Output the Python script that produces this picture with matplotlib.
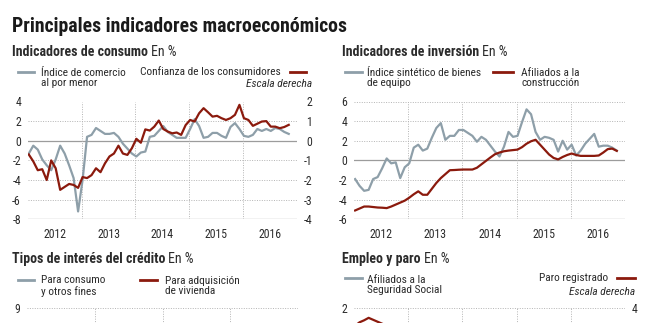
import matplotlib.pyplot as plt
from matplotlib.lines import Line2D
import numpy as np

plt.rcParams['font.family'] = ['Roboto Condensed', 'DejaVu Sans']

# Indicadores de consumo (mensual desde enero 2012)
comercio_por_menor = [-1.3, -0.5, -0.9, -1.9, -2.5, -3.0, -1.9, -0.5, -1.3, -2.5,
                      -3.8, -7.2, -4.0, 0.4, 0.6, 1.3, 1.0, 0.7, 0.7, 0.8,
                      0.4, -0.3, -0.8, -1.3, -1.6, -1.2, -1.1, 0.4, 0.5, 1.0,
                      1.5, 0.9, 0.6, 0.3, 0.3, 0.3, 1.2, 2.2, 1.5, 0.3,
                      0.4, 0.8, 0.8, 0.5, 0.3, 1.4, 1.8, 1.2, 0.5, 0.4,
                      0.6, 1.2, 1.0, 1.2, 1.0, 1.3, 1.2, 0.9, 0.7]
confianza_consumidores = [-0.7, -1.05, -1.5, -1.45, -2.0, -1.0, -1.4, -2.5, -2.35, -2.2,
                          -2.25, -2.4, -1.85, -1.9, -1.75, -1.4, -1.6, -1.15, -0.8, -0.65,
                          -0.25, -0.65, -0.72, -0.38, 0.1, -0.1, 0.58, 0.52, 0.72, 1.03,
                          0.6, 0.47, 0.38, 0.42, 0.3, 0.8, 1.06, 0.98, 1.4, 1.66,
                          1.45, 1.23, 1.27, 1.15, 1.06, 1.15, 1.32, 1.83, 1.15, 1.06,
                          0.76, 0.87, 0.98, 1.0, 0.72, 0.72, 0.64, 0.7, 0.81]

# Indicadores de inversión
bienes_equipo = [-1.9, -2.6, -3.1, -3.0, -1.9, -1.7, -0.8, 0.2, -0.3, -0.2,
                 -1.8, -0.7, -0.3, 1.3, 1.6, 1.0, 1.2, 2.3, 3.3, 3.8,
                 2.1, 2.5, 2.5, 3.1, 3.1, 2.8, 2.5, 1.9, 2.4, 2.1,
                 1.5, 0.9, 0.4, 1.4, 2.9, 2.4, 2.5, 3.9, 5.2, 4.7,
                 2.9, 2.1, 2.4, 2.3, 2.1, 0.9, 2.0, 1.1, 1.6, 0.5,
                 1.0, 1.7, 2.2, 2.7, 1.4, 1.5, 1.5, 1.3, 1.0]
afiliados_construccion = [-5.1, -4.9, -4.7, -4.7, -4.75, -4.8, -4.82, -4.86, -4.7, -4.5,
                          -4.3, -4.1, -3.8, -3.45, -3.15, -3.5, -3.5, -2.9, -2.3, -1.8,
                          -1.4, -1.0, -0.98, -0.95, -0.93, -0.93, -0.93, -0.75, -0.4, -0.05,
                          0.3, 0.63, 0.8, 0.93, 1.0, 1.05, 1.1, 1.35, 1.7, 1.95,
                          2.1, 1.6, 1.1, 0.6, 0.25, 0.1, 0.35, 0.55, 0.7, 0.55,
                          0.46, 0.46, 0.46, 0.46, 0.5, 0.8, 1.15, 1.2, 0.97]

# Empleo y paro: paro registrado, primeros meses de 2012 (escala derecha)
paro_registrado = [2.2, 2.55, 2.75, 3.0, 2.8, 2.6, 2.4]

GRAY = '#8e9fa9'
RED = '#8b1a0d'
INK = '#2b2b2b'
GRID = '#b4b4b4'
AXIS = '#9c9c9c'
KEY_SIZE = 8.2
TICK_SIZE = 8.5

W, H = 664, 323
fig = plt.figure(figsize=(W / 100, H / 100), dpi=100)


def months(n, start=2012):
    return start + (np.arange(n) + 0.2) / 12


def panel(box, x0, x1, ylim, step, years=True):
    left, top, right, bottom = box
    ax = fig.add_axes([left / W, 1 - bottom / H, (right - left) / W, (bottom - top) / H])
    ax.set_xlim(x0, x1)
    ax.set_ylim(*ylim)
    ax.patch.set_visible(False)
    for s in ax.spines.values():
        s.set_visible(False)
    ticks = np.arange(ylim[0], ylim[1] + step / 2, step)
    ax.set_yticks(ticks)
    ax.set_yticklabels([f'{t:g}' for t in ticks])
    for t in ticks:
        if t == 0 or t == ylim[0]:
            ax.axhline(t, color=AXIS, lw=0.9, zorder=1)
        else:
            ax.axhline(t, color=GRID, lw=0.7, ls=(0, (1, 1.5)), zorder=1)
    for yr in range(x0 + 1, x1):
        ax.axvline(yr, color=GRID, lw=0.7, ls=(0, (1, 1.5)), zorder=1)
    ax.set_xticks([yr + 0.5 for yr in range(x0, x1)])
    ax.set_xticklabels([str(yr) for yr in range(x0, x1)])
    ax.tick_params(length=0, labelsize=TICK_SIZE, labelcolor=INK, labelbottom=years)
    ax.tick_params(axis='y', pad=5)
    ax.tick_params(axis='x', pad=6)
    return ax


def right_scale(ax, ylim, step, pad):
    ax2 = ax.twinx()
    ax2.set_ylim(*ylim)
    for s in ax2.spines.values():
        s.set_visible(False)
    ticks = np.arange(ylim[0], ylim[1] + step / 2, step)
    ax2.set_yticks(ticks)
    ax2.set_yticklabels([f'{t:g}' for t in ticks], ha='right')
    ax2.tick_params(length=0, labelsize=TICK_SIZE, labelcolor=INK, pad=pad)
    return ax2


def heading(x, y, bold, rest, size=10):
    t = fig.text(x / W, 1 - y / H, bold, fontsize=size, fontweight='bold',
                 color=INK, va='baseline')
    bb = t.get_window_extent(renderer=fig.canvas.get_renderer())
    fig.text((bb.x1 + 3) / W, 1 - y / H, rest, fontsize=size, color=INK, va='baseline')


def key(x0, x1, y, color):
    fig.add_artist(Line2D([x0 / W, x1 / W], [1 - y / H] * 2, color=color, lw=2))


def label(x, y, s, ha='left', style='normal'):
    fig.text(x / W, 1 - y / H, s, ha=ha, va='center', fontsize=KEY_SIZE, color=INK,
             style=style, linespacing=1.1)


fig.text(12 / W, 1 - 32 / H, 'Principales indicadores macroeconómicos',
         fontsize=14.2, fontweight='bold', color='#1a1a1a', va='baseline')

# --- Indicadores de consumo
heading(12, 56, 'Indicadores de consumo', 'En %')
key(18, 34, 72, GRAY)
label(41, 78, 'Índice de comercio\nal por menor')
label(281, 72, 'Confianza de los consumidores', ha='right')
key(290, 306, 72, RED)
label(312, 84, 'Escala derecha', ha='right', style='italic')

ax = panel((27.9, 101.5, 296.8, 219.3), 2012, 2017, (-8, 4), 2)
ax.plot(months(len(comercio_por_menor)), comercio_por_menor, color=GRAY, lw=1.6, zorder=3)
ax2 = right_scale(ax, (-4, 2), 1, 11)
ax2.plot(months(len(confianza_consumidores)), confianza_consumidores, color=RED, lw=1.6)

# --- Indicadores de inversión
heading(342, 56, 'Indicadores de inversión', 'En %')
key(345, 362, 72, GRAY)
label(367, 78, 'Índice sintético de bienes\nde equipo')
key(493, 513, 72, RED)
label(521, 78, 'Afiliados a la\nconstrucción')

ax = panel((354.2, 101.5, 624.9, 219.3), 2012, 2017, (-6, 6), 2)
ax.plot(months(len(bienes_equipo)), bienes_equipo, color=GRAY, lw=1.6, zorder=3)
ax.plot(months(len(afiliados_construccion)), afiliados_construccion, color=RED, lw=1.6, zorder=4)

# --- Tipos de interés del crédito
heading(12, 263, 'Tipos de interés del crédito', 'En %')
key(18, 34, 280, GRAY)
label(41, 286, 'Para consumo\ny otros fines')
key(140, 157, 280, RED)
label(165, 286, 'Para adquisición\nde vivienda')

ax = panel((27, 308, 298, 426), 2013, 2017, (3, 9), 1, years=False)

# --- Empleo y paro
heading(342, 263, 'Empleo y paro', 'En %')
key(345, 362, 278, GRAY)
label(367, 285, 'Afiliados a la\nSeguridad Social')
label(608, 278, 'Paro registrado', ha='right')
key(617, 635, 278, RED)
label(635, 292, 'Escala derecha', ha='right', style='italic')

ax = panel((354.2, 308, 624.9, 426), 2012, 2017, (-4, 2), 1, years=False)
ax2 = right_scale(ax, (-8, 4), 2, 9)
ax2.plot(months(len(paro_registrado)), paro_registrado, color=RED, lw=1.6)

fig.savefig('out.png', dpi=100, facecolor='white')
